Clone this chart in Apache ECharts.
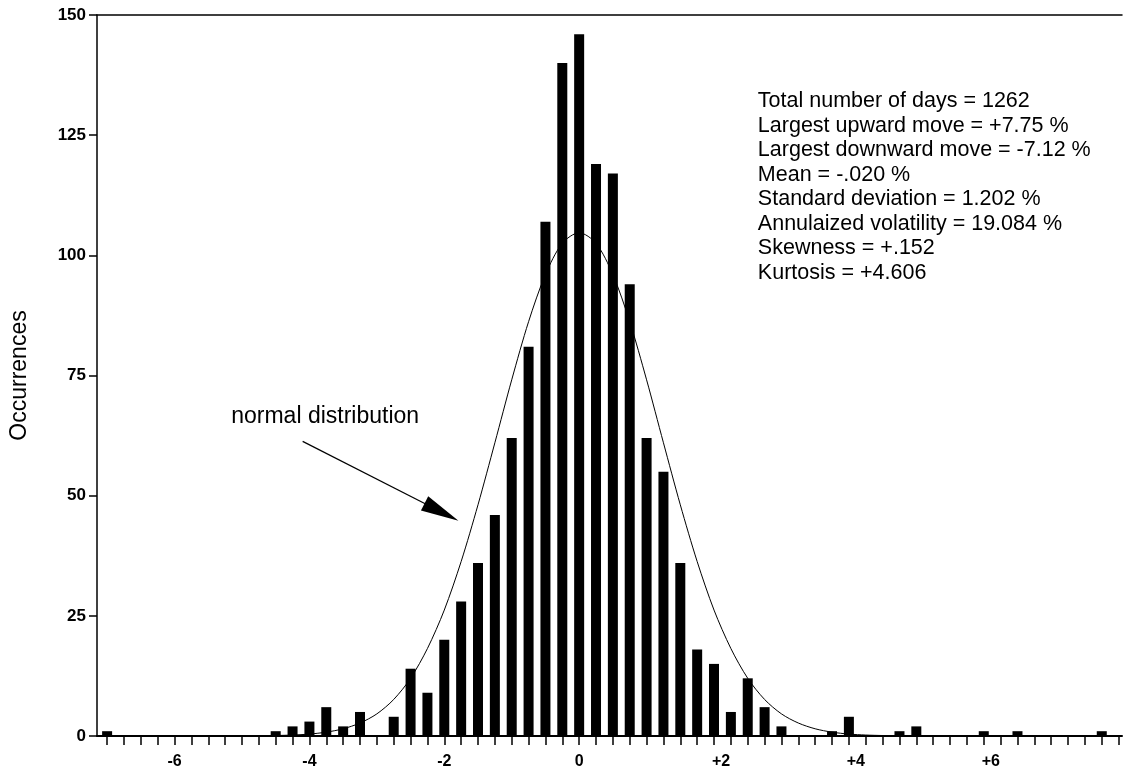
<!DOCTYPE html>
<html><head><meta charset="utf-8">
<script src="https://cdn.jsdelivr.net/npm/echarts@6/dist/echarts.min.js"></script>
<style>html,body{margin:0;padding:0;background:#fff}#c{width:1125px;height:778px}</style>
</head><body><div id="c"></div>
<script>
// ---- data ----
const binCenters = [-7,-6.75,-6.5,-6.25,-6,-5.75,-5.5,-5.25,-5,-4.75,-4.5,-4.25,-4,-3.75,-3.5,-3.25,-3,-2.75,-2.5,-2.25,-2,-1.75,-1.5,-1.25,-1,-0.75,-0.5,-0.25,0,0.25,0.5,0.75,1,1.25,1.5,1.75,2,2.25,2.5,2.75,3,3.25,3.5,3.75,4,4.25,4.5,4.75,5,5.25,5.5,5.75,6,6.25,6.5,6.75,7,7.25,7.5,7.75];
const occurrences = [1,0,0,0,0,0,0,0,0,0,1,2,3,6,2,5,0,4,14,9,20,28,36,46,62,81,107,140,146,119,117,94,62,55,36,18,15,5,12,6,2,0,0,1,4,0,0,1,2,0,0,0,1,0,1,0,0,0,0,1];
const curveX = [-7.15,-5,-4.5,-4.25,-4,-3.75,-3.5,-3.25,-3,-2.75,-2.5,-2.25,-2,-1.75,-1.5,-1.25,-1,-0.75,-0.5,-0.25,0,0.25,0.5,0.75,1,1.25,1.5,1.75,2,2.25,2.5,2.75,3,3.25,3.5,3.75,4,4.25,4.5,5,8.05];
const curveY = [0,0,0.1,0.2,0.4,0.8,1.5,2.7,4.6,7.6,12.0,18.2,26.2,36.3,48.1,61.0,74.1,86.2,96.0,102.5,104.7,102.5,96.0,86.2,74.1,61.0,48.1,36.3,26.2,18.2,12.0,7.6,4.6,2.7,1.5,0.8,0.4,0.2,0.1,0,0];
const xTickValues = [-7,-6.75,-6.5,-6.25,-6,-5.75,-5.5,-5.25,-5,-4.75,-4.5,-4.25,-4,-3.75,-3.5,-3.25,-3,-2.75,-2.5,-2.25,-2,-1.75,-1.5,-1.25,-1,-0.75,-0.5,-0.25,0,0.25,0.5,0.75,1,1.25,1.5,1.75,2,2.25,2.5,2.75,3,3.25,3.5,3.75,4,4.25,4.5,4.75,5,5.25,5.5,5.75,6,6.25,6.5,6.75,7,7.25,7.5,7.75,8];
const xLabelValues = [-6,-4,-2,0,2,4,6];
const yTickValues = [0,25,50,75,100,125,150];
const statsLines = [
  'Total number of days = 1262',
  'Largest upward move = +7.75 %',
  'Largest downward move = -7.12 %',
  'Mean = -.020 %',
  'Standard deviation = 1.202 %',
  'Annulaized volatility = 19.084 %',
  'Skewness = +.152',
  'Kurtosis = +4.606'
];
const annotationText = 'normal distribution';
const yTitle = 'Occurrences';
// annotation anchors (data coordinates)
const arrowTail = [-4.10, 61.3];
const arrowTip = [-1.79, 44.8];
const labelAnchor = [-5.16, 66.5];
const statsAnchor = [2.65, 134.6];

const FONT = '"Liberation Sans", Arial, Helvetica, sans-serif';
const XMIN = -7.15, XMAX = 8.05;

const chart = echarts.init(document.getElementById('c'), null, {renderer:'canvas'});
const option = {
  backgroundColor: '#fff',
  animation: false,
  grid: {left: 96, right: 3, top: 15, bottom: 42, containLabel: false},
  xAxis: [{
    type: 'value', min: XMIN, max: XMAX,
    splitLine: {show: false},
    axisLine: {show: true, onZero: false, lineStyle: {color: '#000', width: 2}},
    axisTick: {show: true, inside: false, length: 9, lineStyle: {color: '#000', width: 1.5}, customValues: xTickValues},
    axisLabel: {
      show: true, margin: 18, color: '#000', fontFamily: FONT, fontSize: 16, fontWeight: 'bold',
      customValues: xLabelValues,
      formatter: v => v > 0 ? '{p|+' + v + '}' : String(v),
      rich: {p: {padding: [0,0,0,14], fontFamily: FONT, fontSize: 16, fontWeight: 'bold', color: '#000'}}
    }
  }, {
    type: 'value', position: 'top', min: XMIN, max: XMAX,
    splitLine: {show: false},
    axisLine: {show: true, onZero: false, lineStyle: {color: '#000', width: 1.5}},
    axisTick: {show: false}, axisLabel: {show: false}
  }],
  yAxis: {
    type: 'value', min: 0, max: 150, interval: 25,
    name: yTitle, nameLocation: 'middle', nameRotate: 90, nameGap: 66,
    nameTextStyle: {fontFamily: FONT, fontSize: 23, color: '#000'},
    splitLine: {show: false},
    axisLine: {show: true, onZero: false, lineStyle: {color: '#000', width: 1.5}},
    axisTick: {show: true, inside: false, length: 8, lineStyle: {color: '#000', width: 1.5}},
    axisLabel: {margin: 11, color: '#000', fontFamily: FONT, fontSize: 17, fontWeight: 'bold',
      customValues: yTickValues}
  },
  series: [{
    type: 'bar', name: 'Occurrences',
    xAxisIndex: 0,
    barWidth: 10,
    itemStyle: {color: '#000'},
    data: binCenters.map((x, i) => [x, occurrences[i]])
  }, {
    type: 'line', name: 'normal distribution',
    xAxisIndex: 0,
    showSymbol: false, symbol: 'none',
    smooth: 0.3,
    lineStyle: {color: '#000', width: 1},
    data: curveX.map((x, i) => [x, curveY[i]]),
    z: 5
  }]
};
chart.setOption(option);

const tail = chart.convertToPixel({gridIndex: 0}, arrowTail);
const tip = chart.convertToPixel({gridIndex: 0}, arrowTip);
const dx = tip[0] - tail[0], dy = tip[1] - tail[1];
const len = Math.hypot(dx, dy);
const ux = dx / len, uy = dy / len;
const headLen = 38, headHalf = 8;
const base = [tip[0] - ux * headLen, tip[1] - uy * headLen];
const nx = -uy, ny = ux;
const lab = chart.convertToPixel({gridIndex: 0}, labelAnchor);
const st = chart.convertToPixel({gridIndex: 0}, statsAnchor);

chart.setOption({
  graphic: [
    {type: 'line', shape: {x1: tail[0], y1: tail[1], x2: base[0] + ux * 4, y2: base[1] + uy * 4},
     style: {stroke: '#000', lineWidth: 1.2}, z: 10},
    {type: 'polygon', shape: {points: [tip, [base[0] + nx * headHalf, base[1] + ny * headHalf], [base[0] - nx * headHalf, base[1] - ny * headHalf]]},
     style: {fill: '#000'}, z: 10},
    {type: 'text', x: lab[0], y: lab[1],
     style: {text: annotationText, font: '23px ' + FONT, fill: '#000', verticalAlign: 'middle'}, z: 10},
    {type: 'text', x: st[0], y: st[1],
     style: {text: statsLines.join('\n'), font: '21.5px ' + FONT, lineHeight: 24.5, fill: '#000', verticalAlign: 'top'}, z: 10}
  ]
});
</script>
</body></html>
